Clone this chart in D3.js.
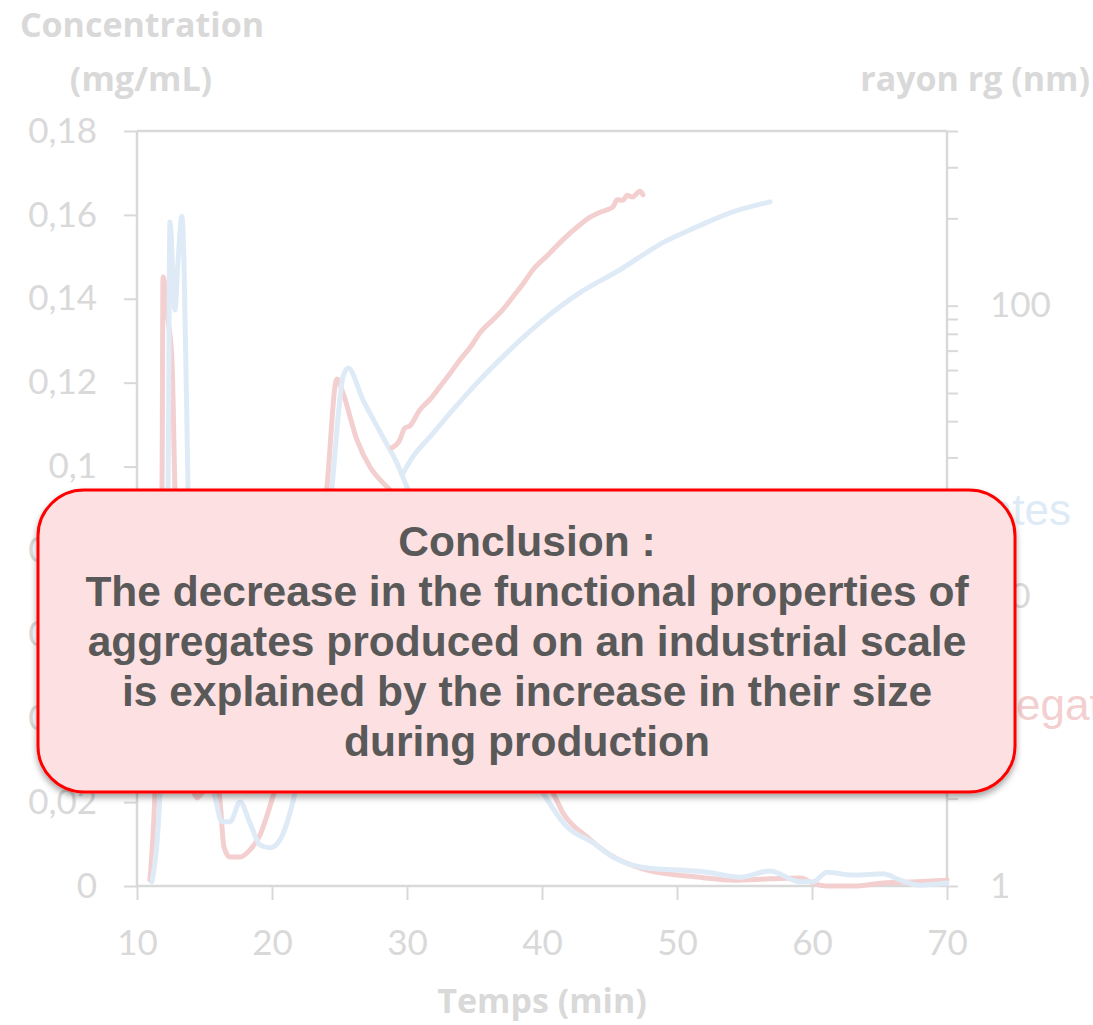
<!DOCTYPE html>
<html>
<head>
<meta charset="utf-8">
<script src="https://cdn.jsdelivr.net/npm/d3@7"></script>
<style>
  html, body { margin: 0; padding: 0; background: #ffffff; }
  svg { display: block; }
</style>
</head>
<body>
<svg id="chart" width="1093" height="1025"></svg>
<script>
// Elution time (min) and concentration (mg/mL) of the two aggregate batches
const concTimeBlue = [11.11, 11.70, 12.30, 12.44, 12.81, 13.04, 13.33, 13.48, 13.78, 14.30, 15.04, 15.70, 16.30, 16.89, 17.63, 18.37, 19.11, 19.85, 20.59, 21.33, 21.70, 22.44, 23.41, 24.44, 25.26, 25.63, 26.74, 28.22, 29.26, 30.00, 31.70, 33.93, 36.15, 38.37, 40.07, 41.85, 43.78, 45.26, 47.78, 50.22, 52.22, 54.67, 56.89, 59.11, 60.07, 61.11, 63.04, 65.26, 66.52, 68.00, 70.00];
const concBlue = [0.0010, 0.0222, 0.0944, 0.1583, 0.1373, 0.1490, 0.1597, 0.1490, 0.0944, 0.0490, 0.0280, 0.0222, 0.0153, 0.0153, 0.0200, 0.0150, 0.0098, 0.0091, 0.0110, 0.0174, 0.0222, 0.0370, 0.0630, 0.0951, 0.1214, 0.1235, 0.1159, 0.1070, 0.1008, 0.0951, 0.0825, 0.0660, 0.0490, 0.0320, 0.0222, 0.0141, 0.0103, 0.0069, 0.0043, 0.0038, 0.0033, 0.0021, 0.0036, 0.0010, 0.0010, 0.0033, 0.0026, 0.0029, 0.0014, 0.0002, 0.0007];

const concTimeRed = [10.96, 11.33, 11.85, 11.93, 12.30, 12.59, 12.81, 13.19, 13.78, 14.22, 14.44, 14.74, 15.41, 16.07, 16.44, 16.89, 17.63, 18.37, 19.11, 20.15, 21.33, 22.44, 23.33, 24.07, 24.81, 25.26, 26.30, 27.26, 28.22, 28.74, 30.96, 33.93, 36.89, 39.11, 40.81, 41.56, 43.33, 45.04, 47.78, 51.70, 54.15, 56.89, 59.11, 60.22, 61.11, 63.04, 65.26, 67.78, 70.00];
const concRed = [0.0014, 0.0222, 0.0944, 0.1452, 0.1349, 0.1254, 0.0944, 0.0560, 0.0280, 0.0222, 0.0210, 0.0219, 0.0240, 0.0222, 0.0093, 0.0069, 0.0069, 0.0086, 0.0122, 0.0222, 0.0348, 0.0539, 0.0730, 0.0951, 0.1209, 0.1175, 0.1063, 0.0999, 0.0961, 0.0944, 0.0780, 0.0560, 0.0400, 0.0290, 0.0222, 0.0174, 0.0117, 0.0074, 0.0038, 0.0021, 0.0014, 0.0017, 0.0019, 0.0005, 0.0000, 0.0000, 0.0007, 0.0010, 0.0014];

// Radius of gyration (nm) measured across the aggregate peak
const radiusTimeBlue = [29.63, 30.44, 31.70, 33.41, 35.19, 37.41, 39.85, 42.81, 45.78, 48.96, 51.48, 53.93, 56.89];
const radiusBlue = [26.1, 30.2, 35.3, 43.8, 54.2, 68.9, 87.4, 110.9, 133, 165, 187, 209, 228];

const radiusTimeRed = [28.89, 29.40, 29.85, 30.20, 30.96, 31.70, 32.44, 33.20, 33.93, 34.70, 35.41, 36.37, 37.10, 37.85, 38.60, 39.33, 40.40, 41.56, 42.81, 43.50, 44.30, 45.26, 45.56, 46.00, 46.30, 46.70, 47.26, 47.48];
const radiusRed = [32.4, 34.0, 37.9, 38.5, 43.8, 47.5, 52.6, 58.5, 65.1, 72.0, 80.7, 89.5, 97.0, 107.4, 119, 133, 149, 169, 190, 201, 210, 219, 232, 231, 240, 237, 248, 241];

// Axis ticks and labels
const xTicks = [10, 20, 30, 40, 50, 60, 70];
const yTicks = [0, 0.02, 0.04, 0.06, 0.08, 0.1, 0.12, 0.14, 0.16, 0.18];
const rLabelTicks = [1, 10, 100];
const rMinorTicks = [2, 3, 4, 5, 6, 7, 8, 9, 20, 30, 40, 50, 60, 70, 80, 90, 200, 300, 400];

const legendLab = "Lab aggregates";
const legendIndustrial = "Industrial aggregates";

const conclusionLines = [
  "Conclusion :",
  "The decrease in the functional properties of",
  "aggregates produced on an industrial scale",
  "is explained by the increase in their size",
  "during production"
];

const axisColor = "#d9d9d9";
const redColor = "#f3cfcf";
const blueColor = "#deebf7";
const tickFont = "Lato, 'Open Sans', sans-serif";
const titleFont = "'Open Sans', Lato, sans-serif";

const svg = d3.select("#chart");
const plot = { left: 137, right: 947, top: 131, bottom: 886 };

const x = d3.scaleLinear().domain([10, 70]).range([plot.left, plot.right]);
const y = d3.scaleLinear().domain([0, 0.18]).range([plot.bottom, plot.top]);
const yR = d3.scaleLog().domain([1, 400]).range([plot.bottom, plot.top]);

// Frame top
svg.append("line")
  .attr("x1", plot.left).attr("x2", plot.right)
  .attr("y1", plot.top).attr("y2", plot.top)
  .attr("stroke", axisColor).attr("stroke-width", 2.5);

// Left axis
const gLeft = svg.append("g").attr("transform", `translate(${plot.left},0)`)
  .call(d3.axisLeft(y).tickValues(yTicks).tickSize(13).tickPadding(27)
    .tickFormat(d => d === 0 ? "0" : d3.format(".2~f")(d).replace(".", ",")));

// Bottom axis
const gBottom = svg.append("g").attr("transform", `translate(0,${plot.bottom})`)
  .call(d3.axisBottom(x).tickValues(xTicks).tickSize(14).tickPadding(30).tickFormat(d3.format("d")));

// Right log axis: labelled decades plus minor ticks
const gRight = svg.append("g").attr("transform", `translate(${plot.right},0)`)
  .call(d3.axisRight(yR).tickValues(rLabelTicks.concat(rMinorTicks)).tickSize(11).tickPadding(32)
    .tickFormat(d => rLabelTicks.includes(d) ? String(d) : ""));

[gLeft, gBottom, gRight].forEach(g => {
  g.select(".domain").attr("stroke", axisColor).attr("stroke-width", 2.5);
  g.selectAll(".tick line").attr("stroke", axisColor).attr("stroke-width", 2);
  g.selectAll(".tick text")
    .attr("fill", axisColor)
    .style("font-family", tickFont)
    .style("font-size", "35px");
});
gLeft.select(".domain").attr("d", `M0,${plot.top}V${plot.bottom}`);
gBottom.select(".domain").attr("d", `M${plot.left},0H${plot.right}`);
gRight.select(".domain").attr("d", `M0,${plot.top}V${plot.bottom}`);

// Axis titles
const titleStyle = sel => sel.attr("fill", axisColor)
  .style("font-family", titleFont).style("font-weight", "700").style("font-size", "34px");

svg.append("text").attr("x", 142).attr("y", 37).attr("text-anchor", "middle")
  .text("Concentration").call(titleStyle);
svg.append("text").attr("x", 141).attr("y", 91).attr("text-anchor", "middle")
  .text("(mg/mL)").call(titleStyle);
svg.append("text").attr("x", 1090).attr("y", 91).attr("text-anchor", "end")
  .text("rayon rg (nm)").call(titleStyle);
svg.append("text").attr("x", 542).attr("y", 1013).attr("text-anchor", "middle")
  .text("Temps (min)").call(titleStyle);

// Series lines
const concLine = d3.line().curve(d3.curveMonotoneX).x(d => x(d[0])).y(d => y(d[1]));
const radLine = d3.line().curve(d3.curveMonotoneX).x(d => x(d[0])).y(d => yR(d[1]));

const series = [
  { t: concTimeRed, v: concRed, gen: concLine, color: redColor },
  { t: concTimeBlue, v: concBlue, gen: concLine, color: blueColor },
  { t: radiusTimeRed, v: radiusRed, gen: radLine, color: redColor },
  { t: radiusTimeBlue, v: radiusBlue, gen: radLine, color: blueColor }
];
series.forEach(s => {
  svg.append("path")
    .datum(s.t.map((t, i) => [t, s.v[i]]))
    .attr("d", s.gen)
    .attr("fill", "none")
    .attr("stroke", s.color)
    .attr("stroke-width", 5)
    .attr("stroke-linejoin", "round")
    .attr("stroke-linecap", "round");
});

// Legend entries (right side)
const legendFont = "'Liberation Sans', Arial, sans-serif";
svg.append("text").attr("x", 1071).attr("y", 525).attr("text-anchor", "end")
  .attr("fill", blueColor).style("font-family", legendFont).style("font-size", "44px")
  .text(legendLab);
const redLegend = svg.append("text").attr("y", 720)
  .attr("fill", redColor).style("font-family", legendFont).style("font-size", "44px")
  .text(legendIndustrial);
// place so that the "egat" part of the word starts just right of the callout
const cut = legendIndustrial.indexOf("egat");
const prefixW = redLegend.node().getSubStringLength(0, cut);
redLegend.attr("x", 1016 - prefixW);

// Conclusion callout
const defs = svg.append("defs");
const shadow = defs.append("filter").attr("id", "boxShadow")
  .attr("x", "-10%").attr("y", "-10%").attr("width", "120%").attr("height", "130%");
shadow.append("feDropShadow").attr("dx", 0).attr("dy", 4).attr("stdDeviation", 3)
  .attr("flood-color", "#000").attr("flood-opacity", 0.35);

const box = { x: 38, y: 490, w: 977, h: 302, r: 46 };
svg.append("rect")
  .attr("x", box.x).attr("y", box.y).attr("width", box.w).attr("height", box.h)
  .attr("rx", box.r).attr("ry", box.r)
  .attr("fill", "#fde0e1").attr("stroke", "#ff0000").attr("stroke-width", 3)
  .attr("filter", "url(#boxShadow)");

const txt = svg.append("text")
  .attr("text-anchor", "middle")
  .attr("fill", "#595959")
  .style("font-family", legendFont)
  .style("font-weight", "700")
  .style("font-size", "42.5px");
conclusionLines.forEach((line, i) => {
  txt.append("tspan").attr("x", 527).attr("y", 556 + i * 50).text(line);
});
</script>
</body>
</html>
